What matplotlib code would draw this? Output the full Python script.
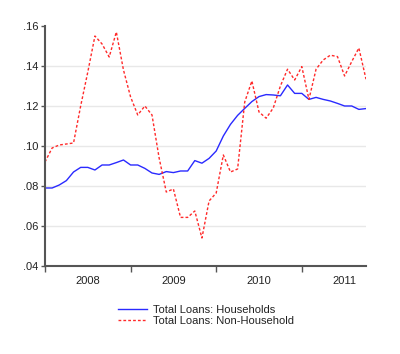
import matplotlib
matplotlib.use("Agg")
import matplotlib.pyplot as plt
import numpy as np
from matplotlib.ticker import FixedLocator, FuncFormatter

plt.rcParams['font.family'] = ['Liberation Sans', 'DejaVu Sans']

# monthly, 2008m1 .. 2011m10
start_year = 2008
households = [0.079, 0.079, 0.0805, 0.0827, 0.087, 0.0893, 0.0893, 0.088, 0.0905, 0.0905,
              0.0917, 0.093, 0.0905, 0.0905, 0.0888, 0.0865, 0.0858, 0.0872, 0.0867, 0.0875,
              0.0875, 0.0927, 0.0914, 0.0938, 0.0975, 0.105, 0.1108, 0.1153, 0.1188, 0.1222,
              0.1247, 0.1257, 0.1255, 0.1251, 0.1305, 0.1263, 0.1263, 0.1233, 0.1243, 0.1233,
              0.1225, 0.1213, 0.1200, 0.1200, 0.1183, 0.1187]
non_household = [0.092, 0.099, 0.1005, 0.101, 0.1015, 0.120, 0.137, 0.155, 0.151, 0.1445,
                 0.157, 0.138, 0.1245, 0.1155, 0.120, 0.1155, 0.094, 0.077, 0.0785, 0.0643,
                 0.0643, 0.0675, 0.054, 0.0725, 0.0765, 0.0955, 0.087, 0.0885, 0.122, 0.1325,
                 0.117, 0.1139, 0.119, 0.130, 0.1384, 0.133, 0.1397, 0.1233, 0.1384, 0.143,
                 0.1454, 0.1447, 0.135, 0.1422, 0.149, 0.1334]
years = [2008, 2009, 2010, 2011]
series_labels = ["Total Loans: Households", "Total Loans: Non-Household"]

x = start_year + np.arange(len(households)) / 12.0

fig = plt.figure(figsize=(4.0, 3.54), dpi=100)
ax = fig.add_axes([0.1125, 0.2486, 0.8025, 0.678])

ax.plot(x, households, color='#2a2aff', lw=1.0, label=series_labels[0])
ax.plot(x, non_household, color='#ff2a2a', lw=1.0, ls=(0, (2.0, 1.5)), label=series_labels[1])

ax.set_xlim(x[0], x[-1])
ax.set_ylim(0.04, 0.16)
ax.set_yticks([0.04, 0.06, 0.08, 0.10, 0.12, 0.14, 0.16])
ax.yaxis.set_major_formatter(FuncFormatter(lambda v, p: ("%.2f" % v).lstrip('0')))
for gy in [0.06, 0.08, 0.10, 0.12, 0.14]:
    ax.axhline(gy, color='#e8e8e8', lw=1.0, zorder=0)

ax.xaxis.set_major_locator(FixedLocator([float(y) for y in years]))
ax.xaxis.set_minor_locator(FixedLocator([y + 0.5 for y in years]))
ax.xaxis.set_major_formatter(FuncFormatter(lambda v, p: ""))
ax.xaxis.set_minor_formatter(FuncFormatter(lambda v, p: "%d" % int(v)))
ax.tick_params(axis='x', which='major', length=4, width=1, color='#555555', direction='out')
ax.tick_params(axis='x', which='minor', length=0, pad=7.5, labelsize=8, labelcolor='#222222')
ax.tick_params(axis='y', length=3, width=1, color='#555555', labelsize=8, labelcolor='#222222', pad=2)

for s in ['top', 'right']:
    ax.spines[s].set_visible(False)
for s in ['left', 'bottom']:
    ax.spines[s].set_color('#555555')
    ax.spines[s].set_linewidth(1.5)

leg = fig.legend(loc='center', bbox_to_anchor=(0.515, 0.109), frameon=False, fontsize=8,
                 handlelength=2.6, handletextpad=0.5, labelspacing=0.12)
for t in leg.get_texts():
    t.set_color('#222222')

fig.savefig('out.png', dpi=100)
